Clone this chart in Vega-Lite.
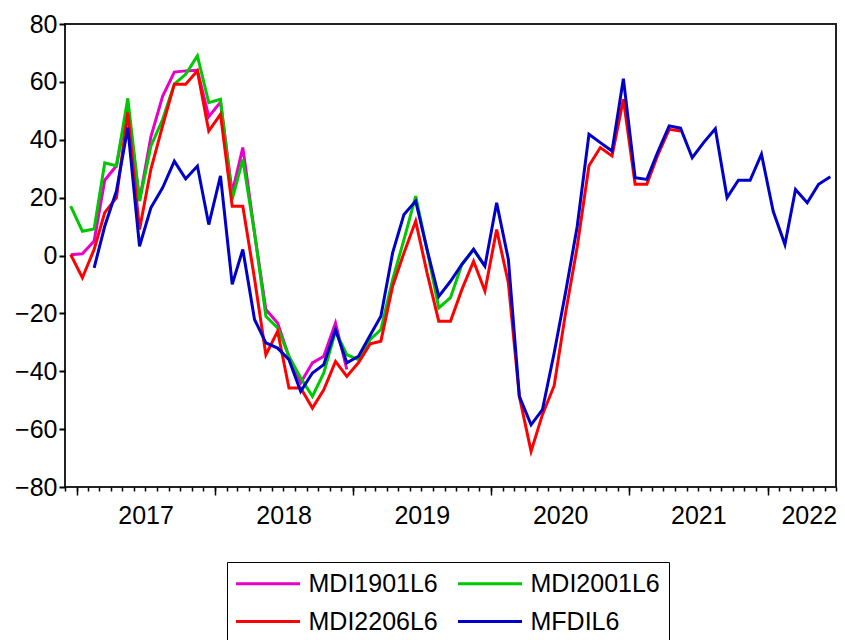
{
"$schema":"https://vega.github.io/schema/vega-lite/v6.json",
"width":771,"height":463,"autosize":"none",
"padding":{"left":65,"top":24,"right":9,"bottom":153},
"background":"white",
"config":{"view":{"stroke":"#222","strokeWidth":2},"axis":{"labelFont":"Liberation Sans","labelColor":"#000","tickColor":"#000"},"legend":{"labelFont":"Liberation Sans"}},
"data":{"values":[
{"date":"2016-12-16","series":"MDI1901L6","value":0.3},{"date":"2017-01-16","series":"MDI1901L6","value":0.6},{"date":"2017-02-16","series":"MDI1901L6","value":5},{"date":"2017-03-16","series":"MDI1901L6","value":26},{"date":"2017-04-16","series":"MDI1901L6","value":31},{"date":"2017-05-16","series":"MDI1901L6","value":52},{"date":"2017-06-16","series":"MDI1901L6","value":19},{"date":"2017-07-16","series":"MDI1901L6","value":41},{"date":"2017-08-16","series":"MDI1901L6","value":55},{"date":"2017-09-16","series":"MDI1901L6","value":63.4},{"date":"2017-10-16","series":"MDI1901L6","value":63.8},{"date":"2017-11-16","series":"MDI1901L6","value":64},{"date":"2017-12-16","series":"MDI1901L6","value":48},{"date":"2018-01-16","series":"MDI1901L6","value":53},{"date":"2018-02-16","series":"MDI1901L6","value":21.7},{"date":"2018-03-16","series":"MDI1901L6","value":37.3},{"date":"2018-04-16","series":"MDI1901L6","value":7.8},{"date":"2018-05-16","series":"MDI1901L6","value":-18.7},{"date":"2018-06-16","series":"MDI1901L6","value":-23.3},{"date":"2018-07-16","series":"MDI1901L6","value":-35},{"date":"2018-08-16","series":"MDI1901L6","value":-44},{"date":"2018-09-16","series":"MDI1901L6","value":-37.1},{"date":"2018-10-16","series":"MDI1901L6","value":-34.8},{"date":"2018-11-16","series":"MDI1901L6","value":-23.3},{"date":"2018-12-16","series":"MDI1901L6","value":-39.4},
{"date":"2016-12-16","series":"MDI2001L6","value":17.1},{"date":"2017-01-16","series":"MDI2001L6","value":8.4},{"date":"2017-02-16","series":"MDI2001L6","value":9.2},{"date":"2017-03-16","series":"MDI2001L6","value":32},{"date":"2017-04-16","series":"MDI2001L6","value":31},{"date":"2017-05-16","series":"MDI2001L6","value":54.3},{"date":"2017-06-16","series":"MDI2001L6","value":18.8},{"date":"2017-07-16","series":"MDI2001L6","value":37.8},{"date":"2017-08-16","series":"MDI2001L6","value":47},{"date":"2017-09-16","series":"MDI2001L6","value":59.2},{"date":"2017-10-16","series":"MDI2001L6","value":62.6},{"date":"2017-11-16","series":"MDI2001L6","value":69},{"date":"2017-12-16","series":"MDI2001L6","value":52.8},{"date":"2018-01-16","series":"MDI2001L6","value":54},{"date":"2018-02-16","series":"MDI2001L6","value":19.4},{"date":"2018-03-16","series":"MDI2001L6","value":33.2},{"date":"2018-04-16","series":"MDI2001L6","value":7.8},{"date":"2018-05-16","series":"MDI2001L6","value":-21},{"date":"2018-06-16","series":"MDI2001L6","value":-25},{"date":"2018-07-16","series":"MDI2001L6","value":-34.8},{"date":"2018-08-16","series":"MDI2001L6","value":-42.3},{"date":"2018-09-16","series":"MDI2001L6","value":-48.7},{"date":"2018-10-16","series":"MDI2001L6","value":-40.6},{"date":"2018-11-16","series":"MDI2001L6","value":-26.2},{"date":"2018-12-16","series":"MDI2001L6","value":-34.3},{"date":"2019-01-16","series":"MDI2001L6","value":-36},{"date":"2019-02-16","series":"MDI2001L6","value":-29},{"date":"2019-03-16","series":"MDI2001L6","value":-25.6},{"date":"2019-04-16","series":"MDI2001L6","value":-8.3},{"date":"2019-05-16","series":"MDI2001L6","value":5.5},{"date":"2019-06-16","series":"MDI2001L6","value":20.5},{"date":"2019-07-16","series":"MDI2001L6","value":2},{"date":"2019-08-16","series":"MDI2001L6","value":-18.1},{"date":"2019-09-16","series":"MDI2001L6","value":-14.6},{"date":"2019-10-16","series":"MDI2001L6","value":-3.1},{"date":"2019-11-16","series":"MDI2001L6","value":2.1},{"date":"2019-12-16","series":"MDI2001L6","value":-3.7},
{"date":"2016-12-16","series":"MDI2206L6","value":0.3},{"date":"2017-01-16","series":"MDI2206L6","value":-7.7},{"date":"2017-02-16","series":"MDI2206L6","value":2.1},{"date":"2017-03-16","series":"MDI2206L6","value":14.8},{"date":"2017-04-16","series":"MDI2206L6","value":20},{"date":"2017-05-16","series":"MDI2206L6","value":49.4},{"date":"2017-06-16","series":"MDI2206L6","value":9},{"date":"2017-07-16","series":"MDI2206L6","value":29.8},{"date":"2017-08-16","series":"MDI2206L6","value":44.8},{"date":"2017-09-16","series":"MDI2206L6","value":59.2},{"date":"2017-10-16","series":"MDI2206L6","value":59.2},{"date":"2017-11-16","series":"MDI2206L6","value":63.8},{"date":"2017-12-16","series":"MDI2206L6","value":43},{"date":"2018-01-16","series":"MDI2206L6","value":48.8},{"date":"2018-02-16","series":"MDI2206L6","value":17},{"date":"2018-03-16","series":"MDI2206L6","value":17},{"date":"2018-04-16","series":"MDI2206L6","value":-8},{"date":"2018-05-16","series":"MDI2206L6","value":-34.3},{"date":"2018-06-16","series":"MDI2206L6","value":-26.2},{"date":"2018-07-16","series":"MDI2206L6","value":-45.8},{"date":"2018-08-16","series":"MDI2206L6","value":-45.8},{"date":"2018-09-16","series":"MDI2206L6","value":-52.7},{"date":"2018-10-16","series":"MDI2206L6","value":-46.4},{"date":"2018-11-16","series":"MDI2206L6","value":-36.6},{"date":"2018-12-16","series":"MDI2206L6","value":-41.8},{"date":"2019-01-16","series":"MDI2206L6","value":-37},{"date":"2019-02-16","series":"MDI2206L6","value":-30.5},{"date":"2019-03-16","series":"MDI2206L6","value":-29.6},{"date":"2019-04-16","series":"MDI2206L6","value":-10.6},{"date":"2019-05-16","series":"MDI2206L6","value":0.9},{"date":"2019-06-16","series":"MDI2206L6","value":11.9},{"date":"2019-07-16","series":"MDI2206L6","value":-6},{"date":"2019-08-16","series":"MDI2206L6","value":-22.7},{"date":"2019-09-16","series":"MDI2206L6","value":-22.7},{"date":"2019-10-16","series":"MDI2206L6","value":-11.8},{"date":"2019-11-16","series":"MDI2206L6","value":-2},{"date":"2019-12-16","series":"MDI2206L6","value":-12.3},{"date":"2020-01-16","series":"MDI2206L6","value":9},{"date":"2020-02-16","series":"MDI2206L6","value":-9.5},{"date":"2020-03-16","series":"MDI2206L6","value":-48.7},{"date":"2020-04-16","series":"MDI2206L6","value":-67.7},{"date":"2020-05-16","series":"MDI2206L6","value":-55},{"date":"2020-06-16","series":"MDI2206L6","value":-45},{"date":"2020-07-16","series":"MDI2206L6","value":-20},{"date":"2020-08-16","series":"MDI2206L6","value":3},{"date":"2020-09-16","series":"MDI2206L6","value":31},{"date":"2020-10-16","series":"MDI2206L6","value":37.3},{"date":"2020-11-16","series":"MDI2206L6","value":34.4},{"date":"2020-12-16","series":"MDI2206L6","value":54},{"date":"2021-01-16","series":"MDI2206L6","value":24.6},{"date":"2021-02-16","series":"MDI2206L6","value":24.6},{"date":"2021-03-16","series":"MDI2206L6","value":34.4},{"date":"2021-04-16","series":"MDI2206L6","value":43.6},{"date":"2021-05-16","series":"MDI2206L6","value":43},
{"date":"2017-02-16","series":"MFDIL6","value":-4.3},{"date":"2017-03-16","series":"MFDIL6","value":10.1},{"date":"2017-04-16","series":"MFDIL6","value":22.3},{"date":"2017-05-16","series":"MFDIL6","value":44.2},{"date":"2017-06-16","series":"MFDIL6","value":3.2},{"date":"2017-07-16","series":"MFDIL6","value":16.5},{"date":"2017-08-16","series":"MFDIL6","value":23.4},{"date":"2017-09-16","series":"MFDIL6","value":32.6},{"date":"2017-10-16","series":"MFDIL6","value":26.5},{"date":"2017-11-16","series":"MFDIL6","value":30.9},{"date":"2017-12-16","series":"MFDIL6","value":10.7},{"date":"2018-01-16","series":"MFDIL6","value":27.5},{"date":"2018-02-16","series":"MFDIL6","value":-10},{"date":"2018-03-16","series":"MFDIL6","value":2.1},{"date":"2018-04-16","series":"MFDIL6","value":-22.1},{"date":"2018-05-16","series":"MFDIL6","value":-30.2},{"date":"2018-06-16","series":"MFDIL6","value":-32},{"date":"2018-07-16","series":"MFDIL6","value":-36},{"date":"2018-08-16","series":"MFDIL6","value":-47},{"date":"2018-09-16","series":"MFDIL6","value":-40.6},{"date":"2018-10-16","series":"MFDIL6","value":-37.7},{"date":"2018-11-16","series":"MFDIL6","value":-25.6},{"date":"2018-12-16","series":"MFDIL6","value":-37.1},{"date":"2019-01-16","series":"MFDIL6","value":-34.8},{"date":"2019-02-16","series":"MFDIL6","value":-27.5},{"date":"2019-03-16","series":"MFDIL6","value":-21},{"date":"2019-04-16","series":"MFDIL6","value":0.9},{"date":"2019-05-16","series":"MFDIL6","value":14.2},{"date":"2019-06-16","series":"MFDIL6","value":18.8},{"date":"2019-07-16","series":"MFDIL6","value":2.1},{"date":"2019-08-16","series":"MFDIL6","value":-14.1},{"date":"2019-09-16","series":"MFDIL6","value":-8.9},{"date":"2019-10-16","series":"MFDIL6","value":-3.1},{"date":"2019-11-16","series":"MFDIL6","value":2.1},{"date":"2019-12-16","series":"MFDIL6","value":-3.7},{"date":"2020-01-16","series":"MFDIL6","value":18.2},{"date":"2020-02-16","series":"MFDIL6","value":-1.4},{"date":"2020-03-16","series":"MFDIL6","value":-48.7},{"date":"2020-04-16","series":"MFDIL6","value":-58.5},{"date":"2020-05-16","series":"MFDIL6","value":-53.3},{"date":"2020-06-16","series":"MFDIL6","value":-33.7},{"date":"2020-07-16","series":"MFDIL6","value":-12.9},{"date":"2020-08-16","series":"MFDIL6","value":10.1},{"date":"2020-09-16","series":"MFDIL6","value":41.9},{"date":"2020-10-16","series":"MFDIL6","value":39},{"date":"2020-11-16","series":"MFDIL6","value":36.1},{"date":"2020-12-16","series":"MFDIL6","value":61.1},{"date":"2021-01-16","series":"MFDIL6","value":26.9},{"date":"2021-02-16","series":"MFDIL6","value":26.3},{"date":"2021-03-16","series":"MFDIL6","value":35.5},{"date":"2021-04-16","series":"MFDIL6","value":44.8},{"date":"2021-05-16","series":"MFDIL6","value":44},{"date":"2021-06-16","series":"MFDIL6","value":33.8},{"date":"2021-07-16","series":"MFDIL6","value":39},{"date":"2021-08-16","series":"MFDIL6","value":43.8},{"date":"2021-09-16","series":"MFDIL6","value":20},{"date":"2021-10-16","series":"MFDIL6","value":26},{"date":"2021-11-16","series":"MFDIL6","value":26},{"date":"2021-12-16","series":"MFDIL6","value":35},{"date":"2022-01-16","series":"MFDIL6","value":15.3},{"date":"2022-02-16","series":"MFDIL6","value":3.8},{"date":"2022-03-16","series":"MFDIL6","value":22.8},{"date":"2022-04-16","series":"MFDIL6","value":18.2},{"date":"2022-05-16","series":"MFDIL6","value":24.6},{"date":"2022-06-16","series":"MFDIL6","value":27.2}
]},
"encoding":{
"y":{"field":"value","type":"quantitative","scale":{"domain":[-80,80],"nice":false,"zero":false},
"axis":{"values":[-80,-60,-40,-20,0,20,40,60,80],"title":null,"grid":false,"domain":false,"tickSize":6,"tickWidth":2,"labelFontSize":25,"labelPadding":2}}
},
"layer":[
{"mark":{"type":"line","strokeWidth":3},
"encoding":{
"x":{"field":"date","type":"temporal","scale":{"type":"utc","nice":false,"domain":[{"year":2016,"month":12,"date":1,"utc":true},{"year":2022,"month":7,"date":1,"utc":true}]},
"axis":{"orient":"bottom","title":null,"grid":false,"domain":false,"labels":false,"tickSize":8,"tickWidth":1.5,
"values":[{"year":2017,"month":1,"date":1,"utc":true},{"year":2018,"month":1,"date":1,"utc":true},{"year":2019,"month":1,"date":1,"utc":true},{"year":2020,"month":1,"date":1,"utc":true},{"year":2021,"month":1,"date":1,"utc":true},{"year":2022,"month":1,"date":1,"utc":true}]}},
"color":{"field":"series","type":"nominal","scale":{"domain":["MDI1901L6","MDI2001L6","MDI2206L6","MFDIL6"],"range":["#E600C8","#00C800","#FF0000","#0000C8"]},
"legend":{"orient":"none","direction":"horizontal","legendX":162,"legendY":538,"columns":2,"title":null,"symbolType":"M-12.8,0H12.8","symbolSize":25,"symbolStrokeWidth":3,"symbolOffset":19.5,"labelOffset":28,"labelFontSize":25,"labelColor":"#000","strokeColor":"#000","fillColor":"#fff","padding":9,"rowPadding":12,"columnPadding":14,"labelLimit":300}}
}},
{"mark":{"type":"point","opacity":0},
"encoding":{
"x":{"field":"date","type":"temporal","scale":{"type":"utc","nice":false,"domain":[{"year":2016,"month":12,"date":1,"utc":true},{"year":2022,"month":7,"date":1,"utc":true}]},
"axis":{"orient":"bottom","title":null,"grid":false,"domain":false,"labels":false,"tickSize":4,"tickWidth":1.5,"tickCount":{"interval":"month","step":1}}}
}},
{"mark":{"type":"point","opacity":0},
"encoding":{
"x":{"field":"date","type":"temporal","scale":{"type":"utc","nice":false,"domain":[{"year":2016,"month":12,"date":1,"utc":true},{"year":2022,"month":7,"date":1,"utc":true}]},
"axis":{"orient":"bottom","title":null,"grid":false,"domain":false,"ticks":false,"tickSize":0,"labelPadding":16,"labelFontSize":25,"format":"%Y","labelFlush":false,"labelOverlap":false,
"values":[{"year":2017,"month":7,"date":2,"utc":true},{"year":2018,"month":7,"date":2,"utc":true},{"year":2019,"month":7,"date":2,"utc":true},{"year":2020,"month":7,"date":2,"utc":true},{"year":2021,"month":7,"date":2,"utc":true},{"year":2022,"month":4,"date":20,"utc":true}]}}
}}
],
"resolve":{"axis":{"x":"independent"}}
}
